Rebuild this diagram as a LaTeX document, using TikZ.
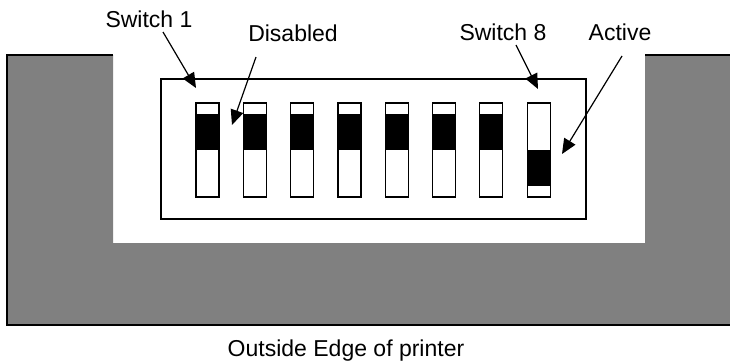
\documentclass[tikz,border=0pt]{standalone}
\usepackage{fontspec}
\setmainfont{Liberation Sans}
\usetikzlibrary{arrows.meta}
\definecolor{casegray}{HTML}{808080}
\def\dipswitch(#1)(#2:#3){\fill[white] (#1, 103) rectangle ++(23, 94); \fill[black] (#1, #2) rectangle (#1+23, #3); \draw[line width=1.2pt] (#1, 103) rectangle ++(23, 94);}

\begin{document}
\begin{tikzpicture}[x=1pt, y=-1pt,
	swlabel/.style={font=\fontsize{23}{27}\selectfont, anchor=base, inner sep=0pt},
	pointer/.style={line width=1.2pt, -{Triangle[length=15pt, width=13pt]}}]
			\useasboundingbox (0, 0) rectangle (730, 362);
			\clip (0, 0) rectangle (730, 362);
			%%%%% START %%%%%
			
			% printer case
			\fill[casegray] (7, 55) -- (113, 55) -- (113, 243) -- (645, 243) -- (645, 55) -- (740, 55) -- (740, 325) -- (7, 325) -- cycle;
			\draw[line width=1.3pt] (113, 55) -- (7, 55) -- (7, 325) -- (740, 325);
			\draw[line width=1.3pt] (645, 55) -- (740, 55);
			
			% switch block
			\draw[line width=1.2pt] (161, 79) rectangle (586, 219);
			\dipswitch(196)(114:150)
			\dipswitch(243.3)(114:150)
			\dipswitch(290.6)(114:150)
			\dipswitch(337.9)(114:150)
			\dipswitch(385.2)(114:150)
			\dipswitch(432.5)(114:150)
			\dipswitch(479.8)(114:150)
			\dipswitch(527.1)(150:186)
			
			% labels
			\node[swlabel] (sw1) at (149, 27) {Switch 1};
			\node[swlabel] (off) at (293, 41) {Disabled};
			\node[swlabel] (sw8) at (503, 40) {Switch 8};
			\node[swlabel] (on) at (620, 40) {Active};
			\node[swlabel] (edge) at (346, 356) {Outside Edge of printer};
			
			\coordinate (sw1from) at (163, 32);
			\coordinate (sw1to) at (196, 88);
			\coordinate (offfrom) at (256, 57);
			\coordinate (offto) at (232, 125);
			\coordinate (sw8from) at (516, 45);
			\coordinate (sw8to) at (538, 89);
			\coordinate (onfrom) at (622, 56);
			\coordinate (onto) at (562, 154);
			
			\draw[pointer] (sw1from) -- (sw1to);
			\draw[pointer] (offfrom) -- (offto);
			\draw[pointer] (sw8from) -- (sw8to);
			\draw[pointer] (onfrom) -- (onto);
			
			%%%%% END %%%%%
		\end{tikzpicture}
\end{document}
